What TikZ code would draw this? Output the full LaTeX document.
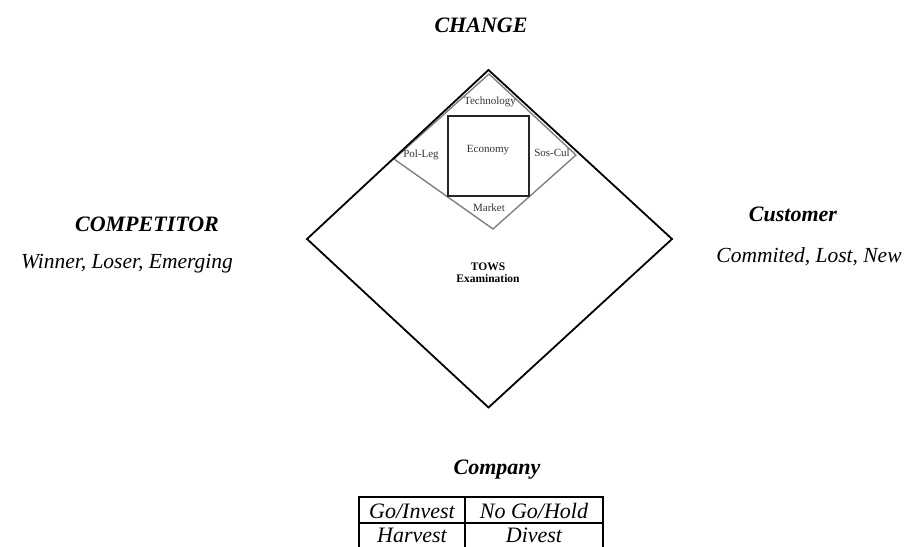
\documentclass[tikz,border=0pt]{standalone}
\usepackage{fontspec}
\setmainfont{Liberation Serif}
\begin{document}
\begin{tikzpicture}[x=1bp,y=-1bp,
  bigtitle/.style={inner sep=0pt, font=\fontsize{22bp}{26bp}\selectfont\bfseries\itshape},
  subtitle/.style={inner sep=0pt, font=\fontsize{21.5bp}{26bp}\selectfont\itshape},
  small/.style={inner sep=0pt, text=black!80, font=\fontsize{11bp}{13bp}\selectfont},
  smallbold/.style={inner sep=0pt, font=\fontsize{11.5bp}{13bp}\selectfont\bfseries},
  cell/.style={inner sep=0pt, font=\fontsize{22bp}{26bp}\selectfont\itshape},
  outer/.style={draw=black, line width=1.8bp, line join=miter},
  inner/.style={draw=black!50, line width=1.4bp},
  econ/.style={draw=black!85, line width=1.8bp},
  tab/.style={draw=black, line width=1.4bp}]
\useasboundingbox (0,0) rectangle (909,547);

% corners
\coordinate (T) at (488.5,70);
\coordinate (L) at (307,239);
\coordinate (R) at (672,239);
\coordinate (B) at (488.5,407.5);
\coordinate (gT) at (489,74);
\coordinate (gL) at (394,159);
\coordinate (gB) at (493,229);
\coordinate (gR) at (576,155);

% inner grey diamond
\draw[inner] (gT) -- (gR) -- (gB) -- (gL) -- cycle;
% outer diamond
\draw[outer] (T) -- (R) -- (B) -- (L) -- cycle;
% economy square
\draw[econ] (448,116) rectangle (529,196);

% small labels
\node[small] (tech) at (490,102) {Technology};
\node[small] (pol) at (421,155) {Pol-Leg};
\node[small] (eco) at (488,150) {Economy};
\node[small] (sos) at (552,153) {Sos-Cul};
\node[small] (mkt) at (489,208) {Market};
\node[smallbold, align=center] (tows) at (488,273) {TOWS\\[-1bp]Examination};

% outer labels
\node[bigtitle] (change) at (481,25) {CHANGE};
\node[bigtitle] (comp) at (147,224) {COMPETITOR};
\node[subtitle] (wle) at (127,264) {Winner, Loser, Emerging};
\node[bigtitle] (cust) at (793,214) {Customer};
\node[subtitle] (cln) at (809,257) {Commited, Lost, New};
\node[bigtitle] (company) at (497,470) {Company};

% table
\draw[tab] (359,547) -- (359,497) -- (603,497) -- (603,547);
\draw[tab] (359,523) -- (603,523);
\draw[tab] (465,497) -- (465,547);
\node[cell] (c11) at (412,511) {Go/Invest};
\node[cell] (c12) at (534,511) {No Go/Hold};
\node[cell] (c21) at (412,535.5) {Harvest};
\node[cell] (c22) at (534,535.5) {Divest};
\end{tikzpicture}
\end{document}
